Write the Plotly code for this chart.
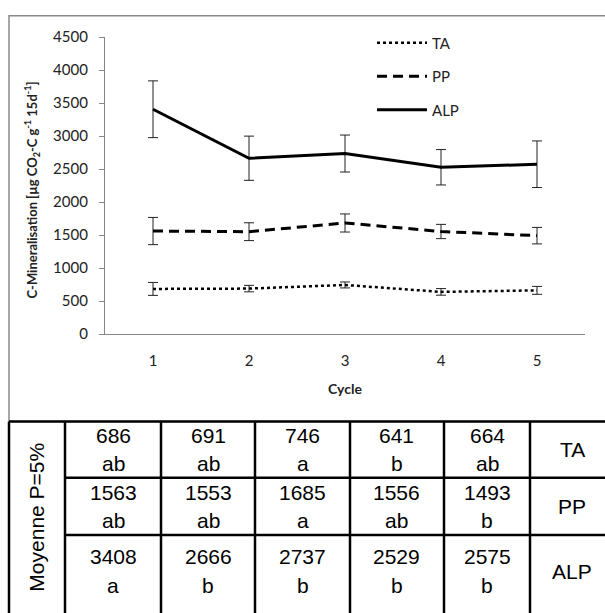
import plotly.graph_objects as go

# ---------------- data ----------------
cycles = [1, 2, 3, 4, 5]
series_names = ["TA", "PP", "ALP"]
ta_mean = [686, 691, 746, 641, 664]
ta_err = [98, 49, 45, 50, 60]
pp_mean = [1563, 1553, 1685, 1556, 1493]
pp_err = [206, 135, 137, 108, 125]
alp_mean = [3408, 2666, 2737, 2529, 2575]
alp_err = [430, 335, 280, 268, 353]
ta_letters = ["ab", "ab", "a", "b", "ab"]
pp_letters = ["ab", "ab", "a", "ab", "b"]
alp_letters = ["a", "b", "b", "b", "b"]
y_ticks = [0, 500, 1000, 1500, 2000, 2500, 3000, 3500, 4000, 4500]

W, H = 605, 613


def px(x):
    return x / W


def py(y):
    return 1 - y / H


fig = go.Figure()

styles = {
    "TA": dict(dash="dot", width=2.5),
    "PP": dict(dash="10px,6px", width=3),
    "ALP": dict(dash="solid", width=3),
}
means = {"TA": ta_mean, "PP": pp_mean, "ALP": alp_mean}
errs = {"TA": ta_err, "PP": pp_err, "ALP": alp_err}

for name in series_names:
    fig.add_trace(go.Scatter(
        x=cycles, y=means[name], name=name, mode="lines",
        legendgroup=name,
        line=dict(color="black", **styles[name]),
        error_y=dict(type="data", array=errs[name], visible=True,
                     color="#222222", thickness=1, width=5),
        hoverinfo="skip",
    ))

axis_gray = "#868686"
tick_font = dict(family="Lato, Open Sans, sans-serif", size=15, color="#222222")

fig.update_layout(
    width=W, height=H,
    margin=dict(l=0, r=0, t=0, b=0),
    paper_bgcolor="white", plot_bgcolor="white",
    showlegend=True,
    legend=dict(x=px(372), y=py(17), xanchor="left", yanchor="top",
                font=dict(family="Lato, Open Sans, sans-serif", size=15, color="#222222"),
                traceorder="grouped", tracegroupgap=11, itemwidth=50,
                bgcolor="rgba(0,0,0,0)"),
    xaxis=dict(domain=[px(105), px(585)], range=[0.5, 5.5],
               tickvals=cycles, ticktext=[str(c) for c in cycles],
               ticks="", showline=True, linecolor=axis_gray, linewidth=1.2,
               showgrid=False, zeroline=False, tickfont=tick_font,
               ticklabelstandoff=13, anchor="y"),
    xaxis3=dict(overlaying="x", anchor="y", range=[0.5, 5.5],
                tickvals=[c - 0.5 for c in cycles] + [cycles[-1] + 0.5],
                ticks="outside", ticklen=5, tickcolor=axis_gray, tickwidth=1.2,
                showticklabels=False, showline=False, showgrid=False, zeroline=False,
                side="bottom"),
    yaxis=dict(domain=[py(334), py(28)], range=[0, 4500],
               tickvals=y_ticks, ticks="outside", ticklen=5, tickcolor=axis_gray,
               tickwidth=1.2, showline=True, linecolor=axis_gray, linewidth=1.2,
               showgrid=False, zeroline=False, tickfont=tick_font,
               ticklabelstandoff=8),
)


def note(x, y, text, font, angle=0):
    fig.add_annotation(x=px(x), y=py(y), xref="paper", yref="paper",
                       xanchor="center", yanchor="middle", textangle=angle,
                       text=text, showarrow=False, font=font)


# Axis titles
note(32, 186,
     "<b>C-Mineralisation [µg CO<sub>2</sub>-C g<sup>-1</sup> 15d<sup>-1</sup>]</b>",
     dict(family="Lato, Open Sans, sans-serif", size=13, color="#222222"), angle=-90)
note(345, 390, "<b>Cycle</b>",
     dict(family="Lato, Open Sans, sans-serif", size=14, color="#222222"))

# Chart frame (gray)
fig.add_shape(type="rect", xref="paper", yref="paper",
              x0=px(9), x1=px(640), y0=py(424), y1=py(6),
              line=dict(color="#8a8a8a", width=1.5), layer="above")

# ---------------- table ----------------
col_edges = [9, 65, 161, 255, 350, 444, 530, 640]
row_edges = [424, 482, 541, 640]
line_kw = dict(color="black", width=2.5)

for x in col_edges[:-1]:
    fig.add_shape(type="line", xref="paper", yref="paper",
                  x0=px(x), x1=px(x), y0=py(row_edges[0]), y1=py(row_edges[-1]),
                  line=line_kw)
fig.add_shape(type="line", xref="paper", yref="paper",
              x0=px(col_edges[0]), x1=px(col_edges[-1]),
              y0=py(row_edges[0]), y1=py(row_edges[0]), line=line_kw)
for y in row_edges[1:-1]:
    fig.add_shape(type="line", xref="paper", yref="paper",
                  x0=px(col_edges[1]), x1=px(col_edges[-1]),
                  y0=py(y), y1=py(y), line=line_kw)

table_font = dict(family="Liberation Sans, Arial, sans-serif", size=21, color="black")
row_centers = [453, 511.5, 578]
rows = [(ta_mean, ta_letters), (pp_mean, pp_letters), (alp_mean, alp_letters)]
label_x = (col_edges[6] + 614) / 2

for r, (vals, lets) in enumerate(rows):
    yc = row_centers[r]
    for i, (v, l) in enumerate(zip(vals, lets)):
        xc = (col_edges[i + 1] + col_edges[i + 2]) / 2
        note(xc, yc - 14.5, str(v), table_font)
        note(xc, yc + 14.5, l, table_font)
    note(label_x, yc, series_names[r], table_font)

note(37, 523, "Moyenne P=5%",
     dict(family="Liberation Sans, Arial, sans-serif", size=21, color="black"), angle=-90)

fig.write_html("out.html", config={"displayModeBar": False},
               post_script="document.body.style.margin='0';")
